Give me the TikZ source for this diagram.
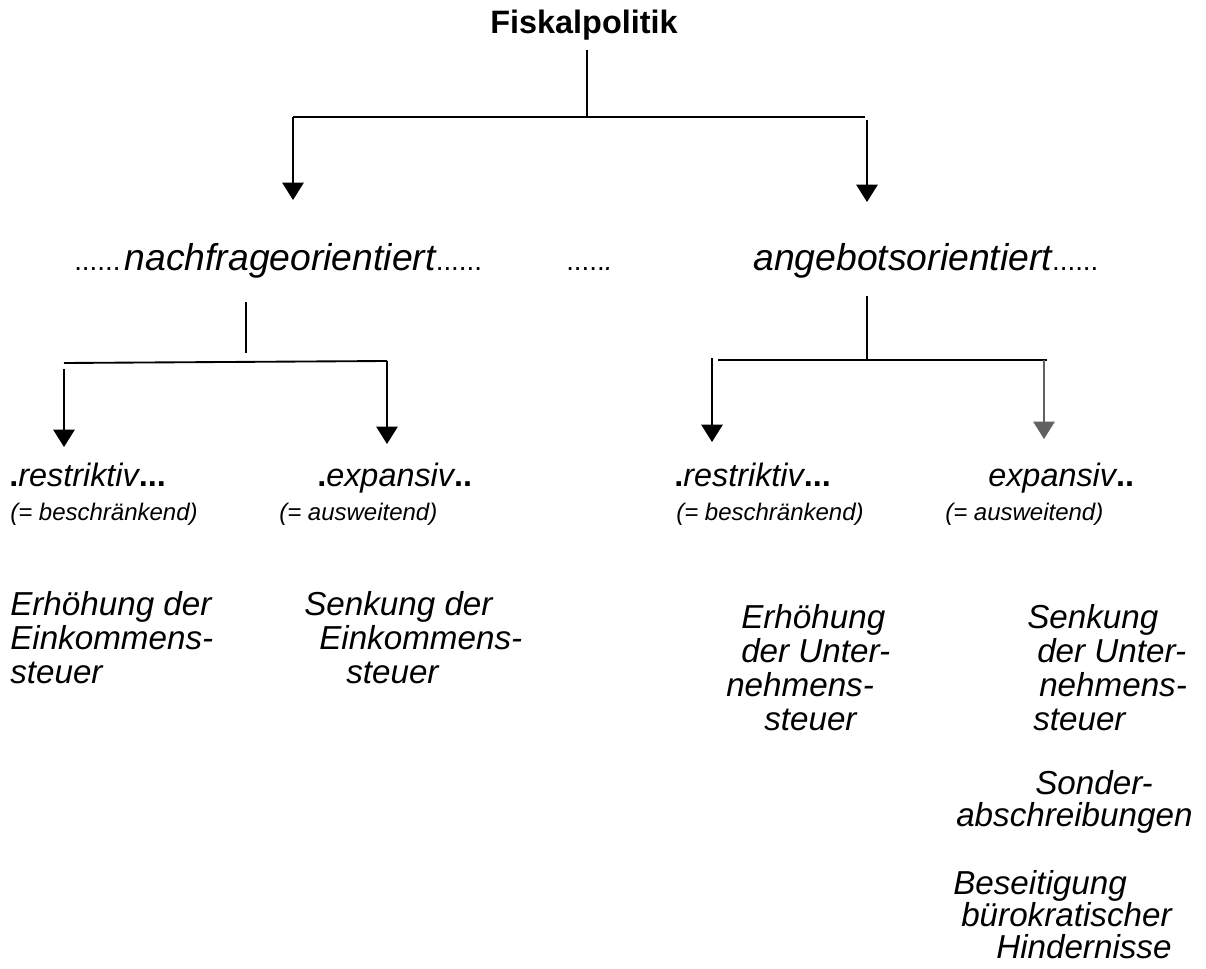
\documentclass[tikz,border=0pt]{standalone}
\usepackage{fontspec}
\setmainfont{Liberation Sans}
\usetikzlibrary{arrows.meta}
\newcommand\szBig{\fontsize{28pt}{33pt}\selectfont}
\newcommand\szMid{\fontsize{24.3pt}{29pt}\selectfont}
\newcommand\szBody{\fontsize{24.9pt}{29pt}\selectfont}
\newcommand\szDot{\fontsize{20.8pt}{25pt}\selectfont}
\newcommand\szSml{\fontsize{18pt}{21pt}\selectfont}
\begin{document}
\begin{tikzpicture}[x=0.75pt,y=-0.75pt,
  txt/.style={inner sep=0pt, anchor=base west, font=\szBody\itshape},
  head/.style={inner sep=0pt, anchor=base west, font=\szBig},
  lab/.style={inner sep=0pt, anchor=base west, font=\szMid},
  sub/.style={inner sep=0pt, anchor=base west, font=\szSml\itshape},
  conn/.style={line width=1.4pt, line cap=butt},
  arr/.style={conn, -{Triangle[width=16pt,length=13pt]}},
  garr/.style={line width=1.1pt, draw=black!62, -{Triangle[width=16pt,length=13pt]}, fill=black!62}]
\useasboundingbox (0,0) rectangle (1206,969);

% top
\node[inner sep=0pt, anchor=base, font=\szMid\bfseries] (fisk) at (584,34) {Fiskalpolitik};
\coordinate (f0) at (587,50);
\coordinate (f1) at (587,117);
\coordinate (hL) at (293,117);
\coordinate (hR) at (865,117);
\coordinate (aR) at (867,120);
\coordinate (tL) at (293,200);
\coordinate (tR) at (867,202);
\draw[conn] (f0) -- (f1);
\draw[conn] (hL) -- (hR);
\draw[arr] (hL) -- (tL);
\draw[arr] (aR) -- (tR);

% second row
\node[head] (nach) at (74,271) {{\szDot......}\kern3pt{\itshape nachfrageorientiert}{\szDot......}};
\node[head] (mid) at (566,271) {{\szDot.....{\itshape.}}};
\node[head] (ang) at (753,271) {{\itshape angebotsorientiert}{\szDot......}};

% left branch
\coordinate (n0) at (246,302);
\coordinate (n1) at (246,353);
\coordinate (nL) at (64,363);
\coordinate (nR) at (387,361);
\coordinate (nLa) at (64,369);
\coordinate (nLt) at (64,447);
\coordinate (nRt) at (387,444);
\draw[conn] (n0) -- (n1);
\draw[conn] (nL) -- (nR);
\draw[arr] (nLa) -- (nLt);
\draw[arr] (nR) -- (nRt);

% right branch
\coordinate (a0) at (867,296);
\coordinate (a1) at (867,360);
\coordinate (aL) at (718,360);
\coordinate (aRr) at (1047,360);
\coordinate (aLa) at (712,358);
\coordinate (aLt) at (712,442);
\coordinate (aRa) at (1044,360);
\coordinate (aRt) at (1044,439);
\draw[conn] (a0) -- (a1);
\draw[conn] (aL) -- (aRr);
\draw[arr] (aLa) -- (aLt);
\draw[garr] (aRa) -- (aRt);

% third row
\node[lab] (r1) at (9,487) {\textbf{.}{\itshape restriktiv}\textbf{...}};
\node[sub] (s1) at (10,520) {(= beschränkend)};
\node[lab] (e1) at (317,487) {\textbf{.}{\itshape expansiv}\textbf{..}};
\node[sub] (s2) at (279,520) {(= ausweitend)};
\node[lab] (r2) at (674,487) {\textbf{.}{\itshape restriktiv}\textbf{...}};
\node[sub] (s3) at (676,520) {(= beschränkend)};
\node[lab] (e2) at (988,487) {{\itshape expansiv}\textbf{..}};
\node[sub] (s4) at (945,520) {(= ausweitend)};

% fourth row, column 1
\node[txt] (c1a) at (10,615) {Erhöhung der};
\node[txt] (c1b) at (10,649) {Einkommens-};
\node[txt] (c1c) at (10,683) {steuer};
% column 2
\node[txt] (c2a) at (304,615) {Senkung der};
\node[txt] (c2b) at (319,649) {Einkommens-};
\node[txt] (c2c) at (346,683) {steuer};
% column 3
\node[txt] (c3a) at (741,628) {Erhöhung};
\node[txt] (c3b) at (741,662) {der Unter-};
\node[txt] (c3c) at (726,696) {nehmens-};
\node[txt] (c3d) at (764,730) {steuer};
% column 4
\node[txt] (c4a) at (1027,628) {Senkung};
\node[txt] (c4b) at (1037,662) {der Unter-};
\node[txt] (c4c) at (1039,696) {nehmens-};
\node[txt] (c4d) at (1033,730) {steuer};
\node[txt] (c4e) at (1035,794) {Sonder-};
\node[txt] (c4f) at (956,826) {abschreibungen};
\node[txt] (c4g) at (953,894) {Beseitigung};
\node[txt] (c4h) at (961,926) {bürokratischer};
\node[txt] (c4i) at (996,958) {Hindernisse};
\end{tikzpicture}
\end{document}
